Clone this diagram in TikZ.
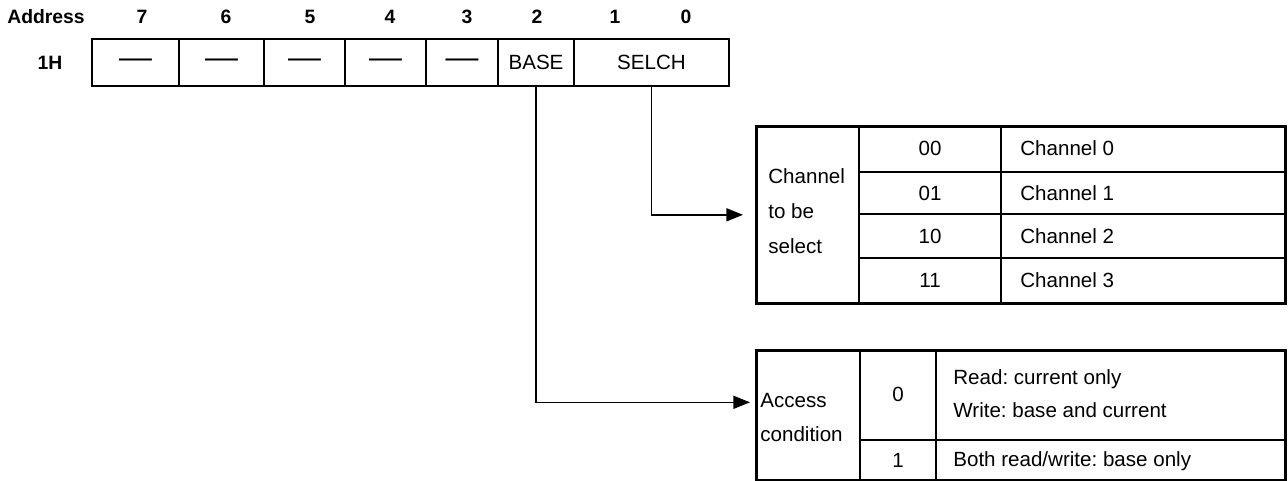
\documentclass[tikz,border=0pt]{standalone}
\usepackage{fontspec}
\setmainfont{Liberation Sans}
\usetikzlibrary{arrows.meta,positioning}
\frenchspacing

\newcommand{\regdash}{\scalebox{1.6}[1]{\bfseries —}}

\begin{document}
\begin{tikzpicture}[
  every node/.style={font=\fontsize{11.7}{14}\selectfont},
  hdr/.style     ={font=\fontsize{11}{13}\selectfont\bfseries},
  regcell/.style ={draw, line width=0.6pt, minimum height=0.94cm,
                   inner sep=0pt, outer sep=0pt},
  tabframe/.style={draw, line width=1.5pt, inner sep=0pt,
                   anchor=north west},
  sepline/.style ={line width=0.65pt},
  link/.style    ={-{Triangle[length=9.5pt,width=7.4pt]}, line width=0.9pt},
]
\useasboundingbox (0,0) rectangle (25.76,-9.62);

%% ---- Register 1H ---------------------------------------------------
\node[hdr] (addr)  at (0.92,-0.34) {Address};
\node[hdr] (reg1h) at (1.00,-1.25) {1H};

\node[regcell, minimum width=1.74cm] (b7) at (2.71,-1.25) {\regdash};
\node[regcell, minimum width=1.70cm, right=0pt of b7] (b6)    {\regdash};
\node[regcell, minimum width=1.62cm, right=0pt of b6] (b5)    {\regdash};
\node[regcell, minimum width=1.62cm, right=0pt of b5] (b4)    {\regdash};
\node[regcell, minimum width=1.44cm, right=0pt of b4] (b3)    {\regdash};
\node[regcell, minimum width=1.52cm, right=0pt of b3] (base)  {BASE};
\node[regcell, minimum width=3.10cm, right=0pt of base] (selch) {SELCH};
\draw[line width=1.5pt] (b7.north west) rectangle (selch.south east);

% bit numbers
\foreach \b/\x in {7/2.84,6/4.52,5/6.20,4/7.80,3/9.34,2/10.74,1/12.30,0/13.72}
  \node[hdr] (bit\b) at (\x,-0.34) {\b};

%% ---- Channel select table ------------------------------------------
\node[tabframe, minimum width=10.58cm, minimum height=3.54cm] (chtab) at (15.10,-2.50) {};
\foreach \x in {17.18,20.02} \draw[sepline] (\x,-2.50) -- (\x,-6.04);
\foreach \y in {-3.44,-4.28,-5.16} \draw[sepline] (17.18,\y) -- (25.68,\y);

\node[anchor=west, align=left, inner sep=0pt,
      font=\fontsize{11.7}{19.8}\selectfont] (chlbl) at (15.36,-4.22)
     {Channel\\to be\\select};

\foreach \v/\t/\y in {00/0/-2.97,01/1/-3.86,10/2/-4.72,11/3/-5.60} {
  \node (sel\v) at (18.60,\y) {\v};
  \node[anchor=west, inner sep=0pt] (ch\t) at (20.40,\y) {Channel \t};
}

%% ---- Access condition table ----------------------------------------
\node[tabframe, minimum width=10.58cm, minimum height=2.60cm] (actab) at (15.10,-6.98) {};
\foreach \x in {17.20,18.72} \draw[sepline] (\x,-6.98) -- (\x,-9.58);
\draw[sepline] (17.20,-8.80) -- (25.68,-8.80);

\node[anchor=west, align=left, inner sep=0pt,
      font=\fontsize{11.7}{19.8}\selectfont] (aclbl) at (15.20,-8.35)
     {Access\\condition};

\node (acv0) at (17.96,-7.89) {0};
\node (acv1) at (17.96,-9.20) {1};
\node[anchor=west, align=left, inner sep=0pt,
      font=\fontsize{11.7}{18.7}\selectfont] (acd0) at (19.06,-7.87)
     {Read: current only\\Write: base and current};
\node[anchor=west, inner sep=0pt] (acd1) at (19.06,-9.22) {Both read/write: base only};

%% ---- Connectors ----------------------------------------------------
\draw[link, shorten >=0.24cm] (selch.south) |- (chtab.west);
\draw[link, shorten >=0.10cm] (base.south) |- ([yshift=0.26cm]actab.west);

\end{tikzpicture}
\end{document}
